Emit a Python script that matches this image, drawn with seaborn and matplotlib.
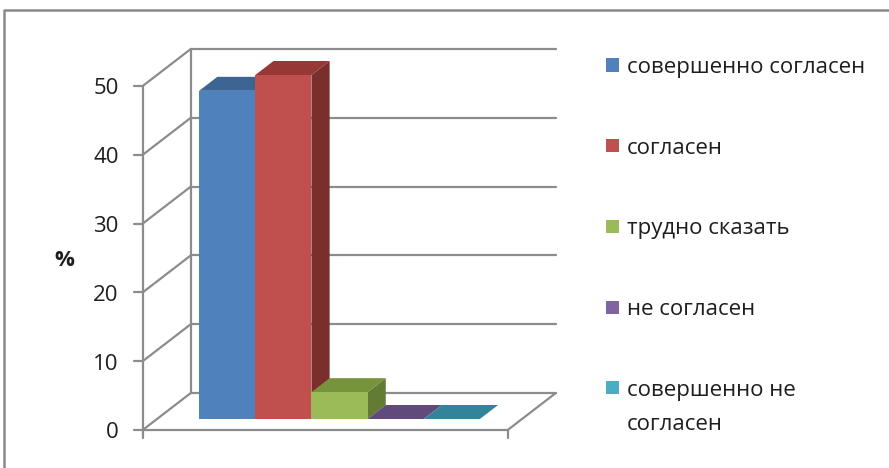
import textwrap

import matplotlib
matplotlib.use("Agg")
import matplotlib.pyplot as plt
import matplotlib.transforms as mtransforms
from matplotlib.lines import Line2D
from matplotlib.patches import Polygon, Rectangle
import numpy as np
import pandas as pd
import seaborn as sns

# Survey answers (%)
categories = ["совершенно согласен", "согласен", "трудно сказать",
              "не согласен", "совершенно не согласен"]
values = [47.7, 50.0, 3.9, 0.0, 0.0]
y_ticks = [0, 10, 20, 30, 40, 50]

# Excel-like colours: front, top and side faces
front_colors = ["#4f81bd", "#c0504d", "#9bbb59", "#8064a2", "#4bacc6"]
top_colors = ["#3d6594", "#953836", "#77933c", "#604a7b", "#31849b"]
side_colors = ["#345783", "#7b2f2d", "#637b32", "#4f3d66", "#2a6f82"]

sns.set_theme(style="white")
plt.rcParams["font.family"] = ["Open Sans", "DejaVu Sans"]

W, H = 889, 468
fig = plt.figure(figsize=(W / 100, H / 100), dpi=100)
text_c = "#1e1e1e"

# bar plane (middle depth of the 3D box), placed in pixels
ax = fig.add_axes([157 / W, 49 / H, 365 / W, 344 / H])
df = pd.DataFrame({"answer": categories, "pct": values})
sns.barplot(data=df, x="answer", y="pct", hue="answer", palette=front_colors,
            saturation=1, width=1.0, ax=ax, legend=False, zorder=3,
            linewidth=0, edgecolor="none")
ax.set_xlim(-1.25, 5.25)
ax.set_ylim(0, 50)
ax.set_autoscale_on(False)
ax.axis("off")

# depth geometry in pixels: z is the vertical shift, x shift = k * z
k = 1.30
z_front, z_back, z_bar = -11, 26, 14
ident = mtransforms.IdentityTransform()
grid_c = "#8c8c8c"


def px(x, y, z=0):
    p = ax.transData.transform((x, y))
    return p + np.array([k * z, z])


def seg(p, q, **kw):
    kw.setdefault("color", grid_c)
    kw.setdefault("lw", 1.6)
    ax.add_line(Line2D([p[0], q[0]], [p[1], q[1]], transform=ident,
                       clip_on=False, zorder=1, **kw))


xmin, xmax = ax.get_xlim()

# back wall grid, left wall diagonals, front axis with labels
for v in y_ticks:
    seg(px(xmin, v, z_back), px(xmax, v, z_back))
    seg(px(xmin, v, z_front), px(xmin, v, z_back))
    p = px(xmin, v, z_front)
    seg(p, p - np.array([9, 0]))
    fig.text((p[0] - 24) / W, (p[1] - 3) / H, str(v), ha="right", va="center",
             fontsize=16, color=text_c)
seg(px(xmin, 0, z_back), px(xmin, 50, z_back))
seg(px(xmin, 0, z_front), px(xmin, 50, z_front))

# floor
seg(px(xmin, 0, z_front), px(xmax, 0, z_front))
seg(px(xmax, 0, z_front), px(xmax, 0, z_back))
for xe in (xmin, xmax):
    p = px(xe, 0, z_front)
    seg(p, p - np.array([0, 8]))

# 3D faces of each bar
for i, bar in enumerate(ax.patches[:len(values)]):
    x0, w, h = bar.get_x(), bar.get_width(), bar.get_height()
    tl, tr, br = px(x0, h), px(x0 + w, h), px(x0 + w, 0)
    d = np.array([k * z_bar, z_bar])
    top = Polygon([tl, tr, tr + d, tl + d], closed=True, transform=ident,
                  facecolor=top_colors[i], edgecolor="none", zorder=2, clip_on=False)
    side = Polygon([br, tr, tr + d, br + d], closed=True, transform=ident,
                   facecolor=side_colors[i], edgecolor="none", zorder=2, clip_on=False)
    ax.add_patch(side)
    ax.add_patch(top)

# y label
fig.text(64 / W, 1 - 260 / H, "%", ha="center", va="center", fontsize=16,
         fontweight="bold", color=text_c)

# legend on the right (square keys, first text line centred on the key)
leg_top, leg_step, line_step = 65, 80.7, 34
for i, cat in enumerate(categories):
    yc = leg_top + i * leg_step
    fig.add_artist(Rectangle((606 / W, 1 - (yc + 6.5) / H), 13 / W, 13 / H,
                             transform=fig.transFigure, facecolor=front_colors[i],
                             edgecolor="none"))
    for j, line in enumerate(textwrap.wrap(cat, 19)):
        fig.text(627 / W, 1 - (yc + j * line_step) / H, line, ha="left",
                 va="center_baseline", fontsize=16, color=text_c)

# chart frame (top and left edges visible)
fig.add_artist(Line2D([4 / W, 4 / W, 1.01], [0, 1 - 10 / H, 1 - 10 / H],
                      transform=fig.transFigure, color="#8a8a8a", lw=1.8))

fig.savefig("out.png", dpi=100)
